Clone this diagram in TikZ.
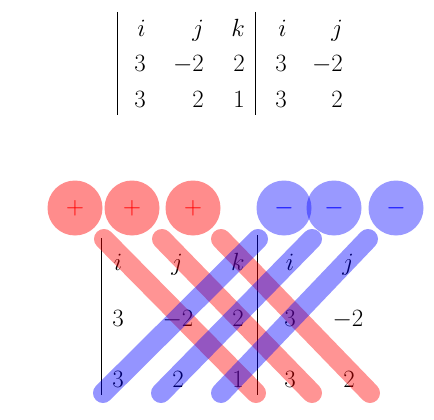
\documentclass[tikz,border=0pt]{standalone}
\begin{document}
\begin{tikzpicture}[x=1pt,y=-1pt, font=\fontsize{30}{36}\selectfont,
  rent/.style={anchor=base east, inner sep=0pt},
  cent/.style={anchor=base, inner sep=0pt},
  bar/.style={line width=0.8pt},
  redline/.style={line width=20pt, line cap=round, draw=red, draw opacity=0.42},
  blueline/.style={line width=20pt, line cap=round, draw=blue, draw opacity=0.42},
  redcirc/.style={circle, fill=red, fill opacity=0.45, text opacity=1, text=red, minimum size=55pt, inner sep=0pt},
  bluecirc/.style={circle, fill=blue, fill opacity=0.40, text opacity=1, text=blue, minimum size=55pt, inner sep=0pt}]
\useasboundingbox (0,0) rectangle (434,420);
% top determinant
\coordinate (tb1a) at (117,12); \coordinate (tb1b) at (117,115);
\coordinate (tb2a) at (255,12); \coordinate (tb2b) at (255,115);
\draw[bar] (tb1a) -- (tb1b);
\draw[bar] (tb2a) -- (tb2b);
\node[rent] (t11) at (146,37) {$i$};
\node[rent] (t12) at (204,37) {$j$};
\node[rent] (t13) at (245,37) {$k$};
\node[rent] (t14) at (287,37) {$i$};
\node[rent] (t15) at (343,37) {$j$};
\node[rent] (t21) at (146,72) {$3$};
\node[rent] (t22) at (204,72) {$-2$};
\node[rent] (t23) at (245,72) {$2$};
\node[rent] (t24) at (287,72) {$3$};
\node[rent] (t25) at (343,72) {$-2$};
\node[rent] (t31) at (146,107) {$3$};
\node[rent] (t32) at (204,107) {$2$};
\node[rent] (t33) at (245,107) {$1$};
\node[rent] (t34) at (287,107) {$3$};
\node[rent] (t35) at (343,107) {$2$};
% bottom determinant
\coordinate (bb1a) at (101,238); \coordinate (bb1b) at (101,395);
\coordinate (bb2a) at (257,235); \coordinate (bb2b) at (257,395);
\draw[bar] (bb1a) -- (bb1b);
\draw[bar] (bb2a) -- (bb2b);
\node[cent] (b11) at (118,270) {$i$};
\node[cent] (b12) at (177,270) {$j$};
\node[cent] (b13) at (238,270) {$k$};
\node[cent] (b14) at (290,270) {$i$};
\node[cent] (b15) at (348,270) {$j$};
\node[cent] (b21) at (118,326) {$3$};
\node[cent] (b22) at (178,326) {$-2$};
\node[cent] (b23) at (238,326) {$2$};
\node[cent] (b24) at (290,326) {$3$};
\node[cent] (b25) at (348,326) {$-2$};
\node[cent] (b31) at (118,387) {$3$};
\node[cent] (b32) at (178,387) {$2$};
\node[cent] (b33) at (238,387) {$1$};
\node[cent] (b34) at (290,387) {$3$};
\node[cent] (b35) at (349,387) {$2$};
% diagonals
\coordinate (r1a) at (104,239); \coordinate (r1b) at (256,393);
\coordinate (r2a) at (162,239); \coordinate (r2b) at (312,393);
\coordinate (r3a) at (221,239); \coordinate (r3b) at (370,393);
\coordinate (u1a) at (103,393); \coordinate (u1b) at (258,239);
\coordinate (u2a) at (161,393); \coordinate (u2b) at (312,239);
\coordinate (u3a) at (221,393); \coordinate (u3b) at (368,239);
\draw[redline] (r1a) -- (r1b);
\draw[redline] (r2a) -- (r2b);
\draw[redline] (r3a) -- (r3b);
\draw[blueline] (u1a) -- (u1b);
\draw[blueline] (u2a) -- (u2b);
\draw[blueline] (u3a) -- (u3b);
% signs
\node[redcirc] (p1) at (75,208) {$+$};
\node[redcirc] (p2) at (132,208) {$+$};
\node[redcirc] (p3) at (193,208) {$+$};
\node[bluecirc] (m1) at (284,208) {$-$};
\node[bluecirc] (m2) at (334,208) {$-$};
\node[bluecirc] (m3) at (396,208) {$-$};
\end{tikzpicture}
\end{document}
